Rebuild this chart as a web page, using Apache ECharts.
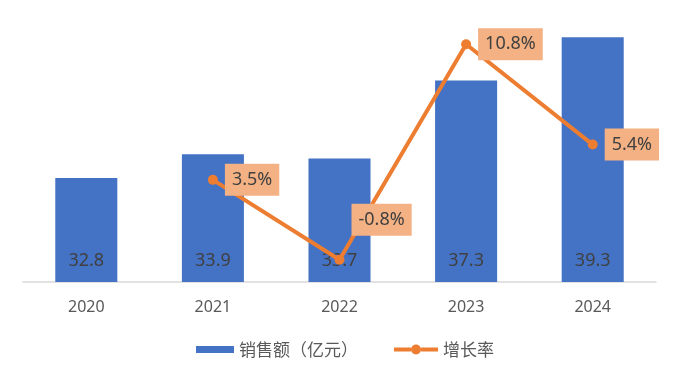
<!DOCTYPE html>
<html>
<head>
<meta charset="utf-8">
<script src="https://cdn.jsdelivr.net/npm/echarts@6/dist/echarts.min.js"></script>
<style>
  html, body { margin: 0; padding: 0; background: #fff; }
  #sales_chart { width: 676px; height: 378px; }
</style>
</head>
<body>
<div id="sales_chart"></div>
<script>
// 数据
let years = ['2020', '2021', '2022', '2023', '2024'];
let sales = [32.8, 33.9, 33.7, 37.3, 39.3];
let growth = [null, 3.5, -0.8, 10.8, 5.4];

let legend_text = {
    color: '#595959',
    fontSize: 17,
    fontFamily: '"Noto Sans CJK SC", sans-serif'
};

let sales_option = {
    animation: false,
    textStyle: {
        fontFamily: '"Noto Sans", "Noto Sans CJK SC", sans-serif'
    },
    grid: {
        left: 23,
        right: 20,
        top: 22,
        bottom: 96
    },
    legend: [
        {
            top: 336,
            left: 191,
            itemWidth: 38,
            itemHeight: 7,
            itemGap: 8,
            textStyle: legend_text,
            data: [{name: '销售额（亿元）', icon: 'rect'}]
        },
        {
            top: 336,
            left: 389,
            itemWidth: 44,
            itemHeight: 10,
            textStyle: legend_text,
            data: [{
                name: '增长率',
                icon: 'path://M0,3 H17 V7 H0 Z M17,5 A5,5 0 1,1 27,5 A5,5 0 1,1 17,5 Z M27,3 H44 V7 H27 Z'
            }]
        }
    ],
    xAxis: {
        type: 'category',
        data: years,
        axisLine: {
            onZero: false,
            lineStyle: {
                color: '#d9d9d9',
                width: 1.5
            }
        },
        axisTick: {show: false},
        axisLabel: {
            color: '#595959',
            fontSize: 16,
            margin: 17
        }
    },
    yAxis: [
        {
            type: 'value',
            min: 28,
            max: 40,
            interval: 2,
            show: false
        },
        {
            type: 'value',
            min: -2,
            max: 12,
            interval: 2,
            show: false
        }
    ],
    series: [
        {
            name: '销售额（亿元）',
            type: 'bar',
            barWidth: '49%',
            itemStyle: {
                color: '#4472C4'
            },
            label: {
                show: true,
                position: 'insideBottom',
                distance: 12,
                color: '#404040',
                fontSize: 18
            },
            data: sales
        },
        {
            name: '增长率',
            type: 'line',
            yAxisIndex: 1,
            symbol: 'circle',
            symbolSize: 10,
            itemStyle: {
                color: '#ED7D31'
            },
            lineStyle: {
                color: '#ED7D31',
                width: 4
            },
            label: {
                show: true,
                position: 'right',
                distance: 7,
                color: '#404040',
                fontSize: 18,
                backgroundColor: '#F4B183',
                padding: [7, 7, 7, 7],
                formatter: function (p) { return p.value + '%'; }
            },
            data: growth.map(function (v, i) {
                if (i === 2) {
                    return {value: v, label: {offset: [0, -40]}};
                }
                return v;
            })
        }
    ]
};

var sales_chart = echarts.init(document.getElementById('sales_chart'));
sales_chart.setOption(sales_option);
</script>
</body>
</html>
